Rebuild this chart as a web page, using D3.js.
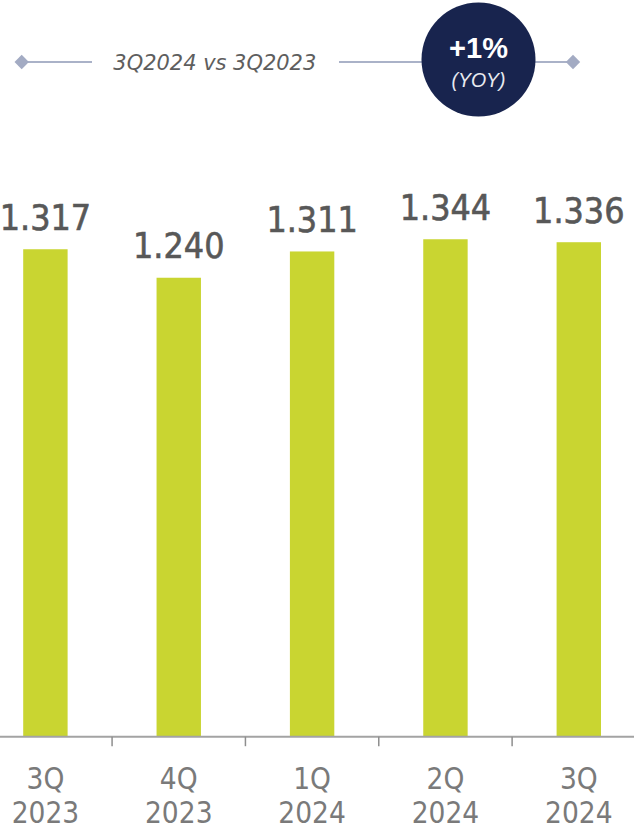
<!DOCTYPE html>
<html>
<head>
<meta charset="utf-8">
<script src="https://cdn.jsdelivr.net/npm/d3@7"></script>
<style>
  html, body { margin: 0; padding: 0; background: #ffffff; }
  svg { display: block; }
</style>
</head>
<body>
<script>
// Quarterly values
const quarters = ["3Q 2023", "4Q 2023", "1Q 2024", "2Q 2024", "3Q 2024"];
const quarterLines = [["3Q", "2023"], ["4Q", "2023"], ["1Q", "2024"], ["2Q", "2024"], ["3Q", "2024"]];
const values = [1.317, 1.240, 1.311, 1.344, 1.336];
const valueLabels = ["1.317", "1.240", "1.311", "1.344", "1.336"];

// Year-over-year badge
const compareLabel = "3Q2024 vs 3Q2023";
const changeLabel = "+1%";
const changeSub = "(YOY)";

const W = 634, H = 831;
const baseY = 736.7;
const font = "'Liberation Sans', Arial, sans-serif";
const numFont = "'DejaVu Sans Condensed', 'DejaVu Sans', sans-serif";

const svg = d3.select("body").append("svg")
  .attr("width", W).attr("height", H);

const x = d3.scaleBand()
  .domain(quarters)
  .range([-21.2, 645.4])
  .paddingInner(0.667)
  .paddingOuter(0.333);

const y = d3.scaleLinear()
  .domain([0, 1.6])
  .range([baseY, baseY - 592.2]);

// Bars
svg.append("g").selectAll("rect")
  .data(values)
  .join("rect")
  .attr("x", (d, i) => x(quarters[i]))
  .attr("y", d => y(d))
  .attr("width", x.bandwidth())
  .attr("height", d => y(0) - y(d))
  .attr("fill", "#c9d531");

// Value labels above bars (slightly heavier via a thin outline)
svg.append("g").selectAll("text")
  .data(values)
  .join("text")
  .attr("x", (d, i) => x(quarters[i]) + x.bandwidth() / 2)
  .attr("y", d => y(d) - 19.5)
  .attr("text-anchor", "middle")
  .attr("font-family", numFont)
  .attr("font-size", 35.5)
  .attr("fill", "#585858")
  .attr("stroke", "#585858")
  .attr("stroke-width", 0.6)
  .text((d, i) => valueLabels[i]);

// Baseline axis
const axis = svg.append("g");
axis.append("line")
  .attr("x1", 0).attr("x2", W)
  .attr("y1", baseY).attr("y2", baseY)
  .attr("stroke", "#a3a3a3").attr("stroke-width", 2);

const step = x.step();
axis.selectAll("line.tick")
  .data(quarters.slice(0, -1))
  .join("line")
  .attr("class", "tick")
  .attr("x1", d => x(d) + x.bandwidth() + (step - x.bandwidth()) / 2)
  .attr("x2", d => x(d) + x.bandwidth() + (step - x.bandwidth()) / 2)
  .attr("y1", baseY).attr("y2", baseY + 9.5)
  .attr("stroke", "#8e8e8e").attr("stroke-width", 1.5);

const lbl = axis.selectAll("text")
  .data(quarters)
  .join("text")
  .attr("x", d => x(d) + x.bandwidth() / 2)
  .attr("text-anchor", "middle")
  .attr("font-family", numFont)
  .attr("font-size", 29.5)
  .attr("fill", "#7a7a7a");
lbl.append("tspan")
  .attr("x", d => x(d) + x.bandwidth() / 2)
  .attr("y", 789.3)
  .text((d, i) => quarterLines[i][0]);
lbl.append("tspan")
  .attr("x", d => x(d) + x.bandwidth() / 2)
  .attr("y", 823.3)
  .text((d, i) => quarterLines[i][1]);

// Comparison header
const head = svg.append("g");
const lineY = 62;
const lineColor = "#aab2c8";
head.append("line")
  .attr("x1", 22).attr("x2", 92).attr("y1", lineY).attr("y2", lineY)
  .attr("stroke", lineColor).attr("stroke-width", 2);
head.append("line")
  .attr("x1", 339).attr("x2", 573).attr("y1", lineY).attr("y2", lineY)
  .attr("stroke", lineColor).attr("stroke-width", 2);

head.selectAll("path.diamond")
  .data([21.7, 573])
  .join("path")
  .attr("class", "diamond")
  .attr("d", d => `M${d},${lineY - 7.2}L${d + 7.2},${lineY}L${d},${lineY + 7.2}L${d - 7.2},${lineY}Z`)
  .attr("fill", "#a3abc3");

head.append("text")
  .attr("x", 113.3).attr("y", 69.5)
  .attr("font-family", "'DejaVu Sans', sans-serif")
  .attr("font-size", 21)
  .attr("font-style", "italic")
  .attr("fill", "#5e5e5e")
  .attr("textLength", 203)
  .attr("lengthAdjust", "spacingAndGlyphs")
  .text(compareLabel);

head.append("circle")
  .attr("cx", 478.5).attr("cy", 59.5).attr("r", 57)
  .attr("fill", "#18244e");

head.append("text")
  .attr("x", 478.5).attr("y", 57.5)
  .attr("text-anchor", "middle")
  .attr("font-family", font)
  .attr("font-size", 29)
  .attr("font-weight", "bold")
  .attr("fill", "#ffffff")
  .text(changeLabel);

head.append("text")
  .attr("x", 478.5).attr("y", 87)
  .attr("text-anchor", "middle")
  .attr("font-family", font)
  .attr("font-size", 19.5)
  .attr("font-style", "italic")
  .attr("fill", "#e8eaf0")
  .text(changeSub);
</script>
</body>
</html>
